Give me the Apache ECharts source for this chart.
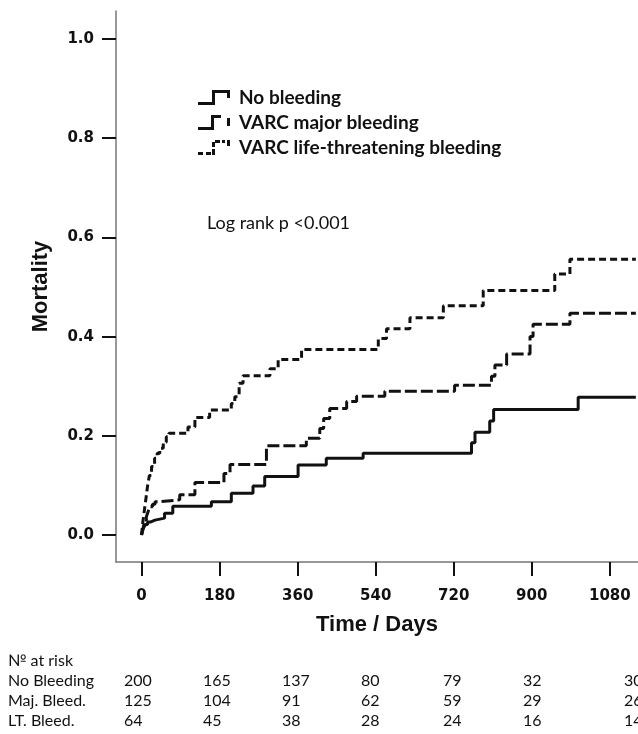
<!DOCTYPE html>
<html>
<head>
<meta charset="utf-8">
<script src="https://cdn.jsdelivr.net/npm/echarts@6/dist/echarts.min.js"></script>
<style>
html, body { margin: 0; padding: 0; background: #fff; }
#chart { width: 638px; height: 734px; }
</style>
</head>
<body>
<div id="chart"></div>
<script>
// tick labels
const xTicks = [0, 180, 360, 540, 720, 900, 1080];
const yTicks = [0, 0.2, 0.4, 0.6, 0.8, 1.0];

// series: [day, cumulative mortality]
const seriesNames = ['No bleeding', 'VARC major bleeding', 'VARC life-threatening bleeding'];
const noBleeding = [
    [0, 0], [2, 0.008], [5, 0.015], [9, 0.021], [14, 0.026], [20, 0.030], [31, 0.034],
    [53, 0.044], [72, 0.058], [161, 0.067], [207, 0.084], [257, 0.099], [284, 0.118],
    [361, 0.141], [426, 0.155], [511, 0.165], [761, 0.186], [769, 0.207], [803, 0.230],
    [812, 0.253], [1007, 0.278], [1140, 0.278]
];
const majorBleeding = [
    [0, 0], [3, 0.012], [6, 0.024], [11, 0.037], [15, 0.047], [19, 0.057], [25, 0.062],
    [31, 0.067], [40, 0.071], [88, 0.081], [123, 0.106], [190, 0.124], [204, 0.142],
    [288, 0.180], [380, 0.195], [411, 0.215], [420, 0.235], [434, 0.255], [473, 0.269],
    [496, 0.280], [561, 0.290], [722, 0.302], [807, 0.320], [815, 0.343], [842, 0.365],
    [896, 0.400], [903, 0.425], [988, 0.447], [1140, 0.447]
];
const ltBleeding = [
    [0, 0], [2, 0.020], [5, 0.040], [8, 0.060], [11, 0.080], [14, 0.100], [18, 0.120],
    [23, 0.138], [30, 0.155], [36, 0.165], [42, 0.175], [50, 0.187], [57, 0.198],
    [63, 0.205], [107, 0.218], [123, 0.237], [157, 0.252], [207, 0.265], [215, 0.279],
    [225, 0.306], [234, 0.321], [296, 0.335], [315, 0.354], [369, 0.374], [546, 0.396],
    [565, 0.416], [619, 0.438], [696, 0.462], [788, 0.493], [953, 0.526], [988, 0.556],
    [1140, 0.556]
];

// number at risk table
const riskHeader = '№ at risk';
const riskLabels = ['No Bleeding', 'Maj. Bleed.', 'LT. Bleed.'];
const riskNoBleeding = [200, 165, 137, 80, 79, 32, 30];
const riskMajor = [125, 104, 91, 62, 59, 29, 26];
const riskLT = [64, 45, 38, 28, 24, 16, 14];

const INK = '#111';
const riskColX = [124, 203, 282, 361, 443, 523, 624];
const riskRowY = [682, 702, 722];

// little step-shaped legend icons (filled rects, 32x15 box)
const iconSolid = 'path://M0,12h16v3h-16z M14,0h3v15h-3z M14,0h18v3h-18z M29,0h3v8h-3z';
const iconMajor = 'path://M0,12h13v3h-13z M13,2h3v13h-3z M13,0h10v3h-10z M29,3h3v8h-3z';
const iconLT = 'path://M0,12h5v3h-5z M8,12h5v3h-5z M14,9h3v6h-3z M14,2h3v5h-3z M17,0h5v3h-5z M24,0h3v3h-3z M29,0h3v6h-3z';

const riskGraphics = [{
    type: 'text', left: 8, top: 653,
    style: { text: riskHeader, font: '16px Lato', fill: INK }
}];
[riskNoBleeding, riskMajor, riskLT].forEach((row, i) => {
    riskGraphics.push({
        type: 'text', left: 8, top: riskRowY[i] - 9,
        style: { text: riskLabels[i], font: '16px Lato', fill: INK }
    });
    row.forEach((v, j) => {
        riskGraphics.push({
            type: 'text', left: riskColX[j], top: riskRowY[i] - 9,
            style: { text: String(v), font: '16px Lato', fill: INK }
        });
    });
});

const chart = echarts.init(document.getElementById('chart'));
chart.setOption({
    animation: false,
    backgroundColor: '#fff',
    grid: { left: 116, right: 0, top: 11, bottom: 172, containLabel: false },
    legend: {
        orient: 'vertical',
        left: 198,
        top: 88,
        padding: 0,
        itemWidth: 32,
        itemHeight: 15,
        itemGap: 6,
        selectedMode: false,
        textStyle: { fontFamily: 'Lato', fontWeight: 'bold', fontSize: 19, color: INK, padding: [0, 0, 0, 4] },
        data: [
            { name: seriesNames[0], icon: iconSolid },
            { name: seriesNames[1], icon: iconMajor },
            { name: seriesNames[2], icon: iconLT }
        ]
    },
    xAxis: {
        type: 'value',
        min: -59,
        max: 1145,
        name: 'Time / Days',
        nameLocation: 'middle',
        nameGap: 52,
        nameTextStyle: { fontFamily: 'Liberation Sans', fontWeight: 'bold', fontSize: 22, color: INK },
        axisLine: { onZero: false, lineStyle: { color: '#777', width: 1.5 } },
        axisTick: { show: true, inside: false, length: 14, customValues: xTicks, lineStyle: { color: INK, width: 2 } },
        axisLabel: {
            customValues: xTicks, margin: 27, fontFamily: 'DejaVu Sans', fontWeight: 'bold', fontSize: 15, color: INK,
            formatter: v => String(v)
        },
        splitLine: { show: false }
    },
    yAxis: {
        type: 'value',
        min: -0.0544,
        max: 1.0565,
        name: 'Mortality',
        nameLocation: 'middle',
        nameRotate: 90,
        nameGap: 64,
        nameTextStyle: { fontFamily: 'Liberation Sans', fontWeight: 'bold', fontSize: 22, color: INK },
        axisLine: { show: true, onZero: false, lineStyle: { color: '#777', width: 1.5 } },
        axisTick: { show: true, inside: false, length: 14, customValues: yTicks, lineStyle: { color: INK, width: 2 } },
        axisLabel: {
            customValues: yTicks, margin: 22, fontFamily: 'DejaVu Sans', fontWeight: 'bold', fontSize: 15, color: INK,
            formatter: v => v.toFixed(1)
        },
        splitLine: { show: false }
    },
    series: [
        {
            name: seriesNames[0], type: 'line', step: 'end', symbol: 'none', data: noBleeding,
            color: INK, lineStyle: { color: INK, width: 3, type: 'solid' }
        },
        {
            name: seriesNames[1], type: 'line', step: 'end', symbol: 'none', data: majorBleeding,
            color: INK, lineStyle: { color: INK, width: 3, type: [12, 4] }
        },
        {
            name: seriesNames[2], type: 'line', step: 'end', symbol: 'none', data: ltBleeding,
            color: INK, lineStyle: { color: INK, width: 3, type: [7, 4] }
        }
    ],
    graphic: [
        {
            type: 'text', left: 207, top: 214,
            style: { text: 'Log rank p <0.001', font: '18px Lato', fill: INK }
        }
    ].concat(riskGraphics)
});
</script>
</body>
</html>
